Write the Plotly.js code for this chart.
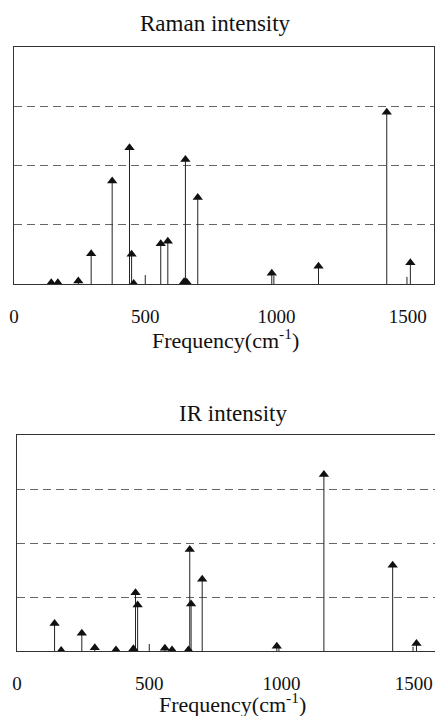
<!DOCTYPE html>
<html>
<head>
<meta charset="utf-8">
<script src="https://cdn.plot.ly/plotly-3.0.1.min.js"></script>
<style>html,body{margin:0;padding:0;background:#fff;}#chart{width:435px;height:716px;}</style>
</head>
<body>
<div id="chart"></div>
<script>
// Vibrational modes (cm^-1) and their intensities (arbitrary units)
const freq  = [142, 167, 245, 294, 374, 440, 448, 456, 559, 586, 648, 653, 658, 700, 982, 1160, 1420, 1510];
const raman = [0.02, 0.02, 0.05, 0.51, 1.74, 2.30, 0.50, 0.01, 0.68, 0.72, 0.04, 2.10, 0.03, 1.46, 0.18, 0.30, 2.90, 0.36];
const ir    = [0.51, 0.01, 0.33, 0.06, 0.02, 0.04, 1.08, 0.85, 0.05, 0.02, 0.02, 1.88, 0.87, 1.33, 0.09, 3.27, 1.59, 0.14];
// weak shoulder lines drawn without markers
const tickFreq  = [500, 990, 1497];
const ramanTick = [0.15, 0.14, 0.12];
const irTick    = [0.13, 0.08, 0.08];
const xTickVals = [0, 500, 1000, 1500];
const xTickText = ['0', '500', '1000', '1500'];

const serif = 'Liberation Serif, Times New Roman, serif';
const ink = '#111';

function stems(x, y, xa, ya, withMarkers) {
  return {
    type: 'scatter', mode: 'markers', x: x, y: y, xaxis: xa, yaxis: ya,
    marker: withMarkers ? {symbol: 'triangle-up', size: 9, color: ink}
                        : {size: 1, color: 'rgba(0,0,0,0)'},
    error_y: {type: 'data', symmetric: false, array: y.map(() => 0), arrayminus: y,
              width: 0, thickness: 1, color: '#222'},
    hoverinfo: 'skip'
  };
}

const data = [
  stems(tickFreq, ramanTick, 'x', 'y', false),
  stems(freq, raman, 'x', 'y', true),
  stems(tickFreq, irTick, 'x2', 'y2', false),
  stems(freq, ir, 'x2', 'y2', true)
];

const xBase = {
  tickvals: xTickVals, ticktext: xTickText, ticks: '', showgrid: false, zeroline: false,
  showline: true, mirror: true, linecolor: '#333', linewidth: 1,
  tickfont: {family: serif, size: 19, color: ink}, ticklabelstandoff: 15
};
const yBase = {
  range: [0, 4], dtick: 1, tick0: 0, showticklabels: false, ticks: '',
  showgrid: true, gridcolor: '#666', gridwidth: 1, griddash: '8px,5px',
  zeroline: false, showline: true, mirror: true, linecolor: '#333', linewidth: 1
};

const W = 435, H = 716;
const layout = {
  width: W, height: H, margin: {l: 0, r: 0, t: 0, b: 0},
  paper_bgcolor: '#fff', plot_bgcolor: '#fff', showlegend: false,
  xaxis: Object.assign({}, xBase, {domain: [14 / W, 434 / W], range: [0, 1600], anchor: 'y'}),
  yaxis: Object.assign({}, yBase, {domain: [1 - 284 / H, 1 - 47 / H], anchor: 'x'}),
  xaxis2: Object.assign({}, xBase, {domain: [17 / W, 1], range: [0, 1580], anchor: 'y2'}),
  yaxis2: Object.assign({}, yBase, {domain: [1 - 651 / H, 1 - 435 / H], anchor: 'x2'}),
  annotations: [
    {text: 'Raman intensity', xref: 'paper', yref: 'paper', x: 215.5 / W, y: 1 - 24 / H,
     xanchor: 'center', yanchor: 'middle', showarrow: false, font: {family: serif, size: 23, color: ink}},
    {text: 'IR intensity', xref: 'paper', yref: 'paper', x: 233 / W, y: 1 - 413 / H,
     xanchor: 'center', yanchor: 'middle', showarrow: false, font: {family: serif, size: 23, color: ink}},
    {text: 'Frequency(cm<sup>-1</sup>)', xref: 'paper', yref: 'paper', x: 225 / W, y: 1 - 339 / H,
     xanchor: 'center', yanchor: 'middle', showarrow: false, font: {family: serif, size: 22, color: ink}},
    {text: 'Frequency(cm<sup>-1</sup>)', xref: 'paper', yref: 'paper', x: 232 / W, y: 1 - 703 / H,
     xanchor: 'center', yanchor: 'middle', showarrow: false, font: {family: serif, size: 22, color: ink}}
  ]
};

Plotly.newPlot('chart', data, layout, {staticPlot: true, displayModeBar: false});
</script>
</body>
</html>
